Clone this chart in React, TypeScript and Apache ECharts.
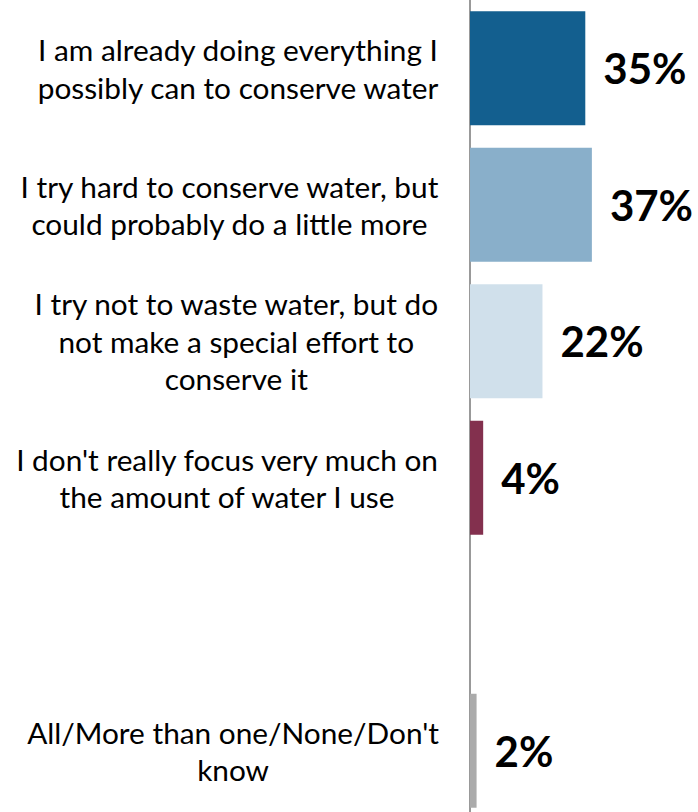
import React, { useEffect, useRef } from "react";
import * as echarts from "echarts";

const categories: string[] = [
  "I am already doing everything I\npossibly can to conserve water",
  "I try hard to conserve water, but\ncould probably do a little more",
  "I try not to waste water, but do\nnot make a special effort to\nconserve it",
  "I don't really focus very much on\nthe amount of water I use",
  "",
  "All/More than one/None/Don't\nknow",
];
const values: (number | null)[] = [35, 37, 22, 4, null, 2];
const colors: string[] = ["#135F8F", "#89AFCA", "#D0E0EB", "#83304E", "#FFFFFF", "#ABABAB"];

export default function App() {
  const ref = useRef<HTMLDivElement>(null);
  useEffect(() => {
    if (!ref.current) return;
    const chart = echarts.init(ref.current, undefined, { renderer: "svg" });
    chart.setOption({
      animation: false,
      grid: { left: 470, right: 4, top: 0, bottom: 0, containLabel: false },
      xAxis: {
        type: "value",
        min: 0,
        max: 68,
        show: false,
      },
      yAxis: {
        type: "category",
        inverse: true,
        data: categories,
        axisLine: { show: true, lineStyle: { color: "#999999", width: 2 } },
        axisTick: { show: false },
        splitLine: { show: false },
        axisLabel: {
          margin: 31,
          align: "right",
          formatter: (v: string) =>
            v
              .split("\n")
              .map((l) => `{a|${l}}`)
              .join("\n"),
          rich: {
            a: {
              align: "center",
              fontFamily: "Lato",
              fontSize: 29.8,
              lineHeight: 37.5,
              color: "#000000",
            },
          },
        },
      },
      series: [
        {
          type: "bar",
          barCategoryGap: "16.5%",
          data: values.map((v, i) => ({
            value: v === null ? "-" : v,
            itemStyle: { color: colors[i] },
          })),
          label: {
            show: true,
            position: "right",
            distance: 18,
            formatter: (p: any) => (p.value === "-" ? "" : `${p.value}%`),
            fontFamily: "Lato",
            fontWeight: "bold",
            fontSize: 42,
            color: "#000000",
          },
        },
      ],
    });
    return () => chart.dispose();
  }, []);
  return (
    <div style={{ position: "fixed", left: 0, top: 0, width: 698, height: 812, overflow: "hidden", background: "#fff" }}>
      <div ref={ref} style={{ width: 698, height: 819 }} />
    </div>
  );
}
